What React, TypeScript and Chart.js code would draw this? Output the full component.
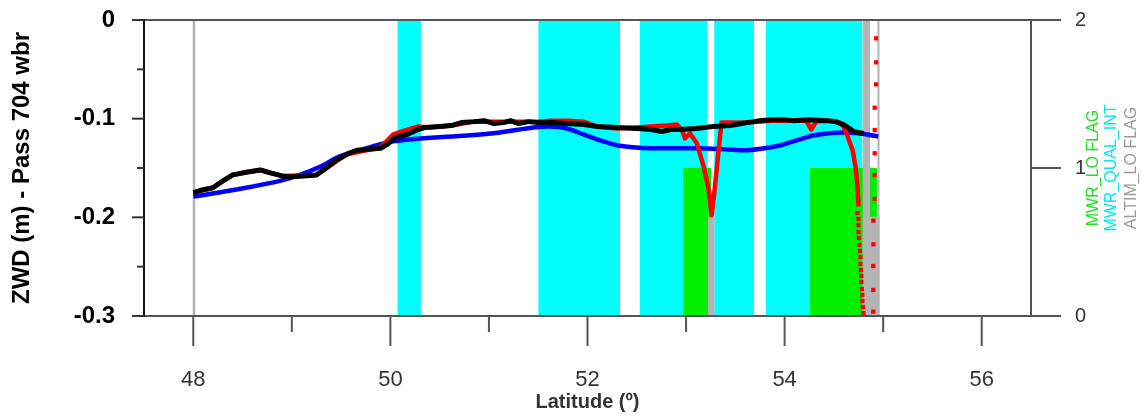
import React, { useEffect, useRef } from "react";
import { Chart, registerables } from "chart.js";

Chart.register(...registerables);

// ZWD along the pass (latitude in degrees, ZWD in metres)
const LAT_MODEL = [48.0, 48.48, 48.88, 49.08, 49.28, 49.49, 49.69, 49.89, 50.03, 50.3, 50.45, 50.78, 51.11, 51.45, 51.62, 51.79, 51.96, 52.13, 52.3, 52.46, 52.64, 53.14, 53.4, 53.62, 53.8, 53.96, 54.12, 54.29, 54.43, 54.6, 54.77, 54.95];
const ZWD_MODEL = [-0.179, -0.171, -0.163, -0.157, -0.149, -0.138, -0.132, -0.126, -0.123, -0.12, -0.119, -0.117, -0.114, -0.109, -0.108, -0.11, -0.116, -0.122, -0.127, -0.129, -0.13, -0.13, -0.131, -0.132, -0.13, -0.127, -0.122, -0.117, -0.115, -0.114, -0.115, -0.118];

const LAT_MWR = [48.0, 48.1, 48.2, 48.3, 48.4, 48.55, 48.68, 48.78, 48.9, 49.0, 49.12, 49.25, 49.35, 49.45, 49.56, 49.66, 49.78, 49.9, 49.97, 50.05, 50.17, 50.28, 50.35, 50.5, 50.62, 50.72, 50.85, 50.95, 51.05, 51.15, 51.22, 51.3, 51.4, 51.5, 51.62, 51.8, 51.96, 52.1, 52.3, 52.5, 52.64, 52.75, 52.85, 52.94, 53.1, 53.28, 53.45, 53.62, 53.75, 53.86, 54.0, 54.09, 54.25, 54.43, 54.52, 54.6, 54.66, 54.7, 54.8];
const ZWD_MWR = [-0.175, -0.172, -0.17, -0.163, -0.157, -0.154, -0.152, -0.155, -0.158, -0.159, -0.158, -0.157, -0.15, -0.142, -0.136, -0.132, -0.131, -0.13, -0.126, -0.119, -0.116, -0.111, -0.109, -0.108, -0.107, -0.104, -0.103, -0.102, -0.105, -0.104, -0.102, -0.105, -0.103, -0.104, -0.104, -0.105, -0.106, -0.108, -0.109, -0.11, -0.111, -0.113, -0.111, -0.111, -0.11, -0.108, -0.107, -0.104, -0.102, -0.101, -0.101, -0.102, -0.101, -0.102, -0.103, -0.106, -0.11, -0.113, -0.115];

const LAT_RAW = [48.0, 48.2, 48.4, 48.68, 48.9, 49.25, 49.56, 49.9, 50.03, 50.15, 50.28, 50.4, 50.62, 50.85, 51.22, 51.5, 51.62, 51.8, 51.96, 52.1, 52.3, 52.5, 52.64, 52.8, 52.91, 52.96, 52.99, 53.04, 53.11, 53.18, 53.23, 53.26, 53.29, 53.33, 53.36, 53.45, 53.62, 53.86, 54.09, 54.22, 54.27, 54.32, 54.43, 54.55, 54.6, 54.64, 54.69, 54.72, 54.74, 54.75];
const ZWD_RAW = [-0.175, -0.17, -0.157, -0.152, -0.158, -0.157, -0.136, -0.129, -0.116, -0.112, -0.108, -0.109, -0.107, -0.103, -0.103, -0.103, -0.102, -0.102, -0.103, -0.108, -0.11, -0.109, -0.108, -0.107, -0.106, -0.112, -0.12, -0.115, -0.125, -0.149, -0.172, -0.198, -0.172, -0.132, -0.104, -0.104, -0.104, -0.102, -0.102, -0.102, -0.111, -0.103, -0.102, -0.104, -0.108, -0.118, -0.132, -0.149, -0.169, -0.189];

// sparse samples where the raw ZWD plunges
const LAT_RAW_SPARSE = [54.739, 54.749, 54.749, 54.749, 54.754, 54.759, 54.764, 54.769, 54.769, 54.774, 54.779, 54.779, 54.784, 54.789, 54.789, 54.794, 54.799, 54.928, 54.928, 54.928, 54.914, 54.914, 54.914, 54.914, 54.914, 54.901, 54.901, 54.899, 54.899, 54.899];
const ZWD_RAW_SPARSE = [-0.1956, -0.2017, -0.2078, -0.2149, -0.2209, -0.228, -0.2341, -0.2402, -0.2473, -0.2534, -0.2594, -0.2655, -0.2726, -0.2787, -0.2848, -0.2909, -0.297, -0.0186, -0.0429, -0.0652, -0.0889, -0.1115, -0.1351, -0.1571, -0.1814, -0.2034, -0.2273, -0.2493, -0.2736, -0.2956];

// flag intervals (latitude start / end, flag level on the right axis)
const QUAL_INT_START = [50.07, 51.5, 52.53, 53.285, 53.81];
const QUAL_INT_END = [50.31, 52.33, 53.22, 53.69, 54.79];
const QUAL_INT_LEVEL = 2;
const LO_FLAG_START = [52.97, 54.255];
const LO_FLAG_END = [53.255, 54.94];
const LO_FLAG_LEVEL = 1;
const ALTIM_START = [47.992, 53.22, 54.79, 54.79, 54.94];
const ALTIM_END = [48.022, 53.29, 54.87, 54.965, 54.965];
const ALTIM_LEVEL = [2, 0.67, 2, 0.67, 2];

const FLAG_NAMES = ["MWR_LO FLAG", "MWR_QUAL_INT", "ALTIM_LO FLAG"];

const X_TICKS = [48, 50, 52, 54, 56];
const X_TICK_LABELS = ["48", "50", "52", "54", "56"];
const X_MINOR_TICKS = [49, 51, 53, 55];
const ZWD_TICKS = [-0.3, -0.2, -0.1, 0];
const ZWD_TICK_LABELS = ["-0.3", "-0.2", "-0.1", "0"];
const ZWD_MINOR_TICKS = [-0.25, -0.15, -0.05];
const FLAG_TICKS = [0, 1, 2];
const FLAG_TICK_LABELS = ["0", "1", "2"];

const FONT = "'Liberation Sans', Arial, sans-serif";
const CYAN = "#00ffff";
const GREEN = "#00ee00";
const GREY = "#b4b4b4";
const FLAG_COLORS = ["#22e022", "#00e8f0", "#9a9a9a"];

const zip = (xs: number[], ys: number[]) => xs.map((x, i) => ({ x, y: ys[i] }));

function band(start: number, end: number, level: number, color: string, order: number) {
  return {
    type: "line" as const,
    data: [
      { x: start, y: level },
      { x: end, y: level },
    ],
    yAxisID: "y1",
    borderColor: "rgba(0,0,0,0)",
    borderWidth: 0,
    backgroundColor: color,
    pointRadius: 0,
    fill: "origin",
    tension: 0,
    order,
  };
}

const framePlugin = {
  id: "frame",
  afterDatasetsDraw(chart: any) {
    const { ctx, chartArea: a, scales } = chart;
    const x = scales.x;
    const y = scales.y;
    const y1 = scales.y1;
    ctx.save();
    ctx.lineCap = "butt";
    ctx.lineWidth = 2;

    // plot box
    ctx.strokeStyle = "#555";
    ctx.beginPath();
    ctx.moveTo(a.left, a.top);
    ctx.lineTo(a.right, a.top);
    ctx.lineTo(a.right, a.bottom);
    ctx.lineTo(a.left, a.bottom);
    ctx.stroke();
    ctx.strokeStyle = "#111";
    ctx.beginPath();
    ctx.moveTo(a.left, a.top - 1);
    ctx.lineTo(a.left, a.bottom + 1);
    ctx.stroke();

    // left ticks
    ctx.strokeStyle = "#333";
    ZWD_TICKS.forEach((v) => {
      const py = y.getPixelForValue(v);
      ctx.beginPath();
      ctx.moveTo(a.left - 12, py);
      ctx.lineTo(a.left, py);
      ctx.stroke();
    });
    ZWD_MINOR_TICKS.forEach((v) => {
      const py = y.getPixelForValue(v);
      ctx.beginPath();
      ctx.moveTo(a.left - 7, py);
      ctx.lineTo(a.left, py);
      ctx.stroke();
    });

    // bottom ticks
    ctx.strokeStyle = "#555";
    X_TICKS.forEach((v) => {
      const px = x.getPixelForValue(v);
      ctx.beginPath();
      ctx.moveTo(px, a.bottom);
      ctx.lineTo(px, a.bottom + 30);
      ctx.stroke();
    });
    X_MINOR_TICKS.forEach((v) => {
      const px = x.getPixelForValue(v);
      ctx.beginPath();
      ctx.moveTo(px, a.bottom);
      ctx.lineTo(px, a.bottom + 16);
      ctx.stroke();
    });

    // right ticks
    FLAG_TICKS.forEach((v) => {
      const py = y1.getPixelForValue(v);
      ctx.beginPath();
      ctx.moveTo(a.right, py);
      ctx.lineTo(a.right + 30, py);
      ctx.stroke();
    });

    // flag names, written upwards beside the right axis
    const offsets = [62.5, 81, 100.5];
    ctx.font = `16px ${FONT}`;
    ctx.textAlign = "center";
    ctx.textBaseline = "middle";
    FLAG_NAMES.forEach((name, i) => {
      ctx.save();
      ctx.translate(a.right + offsets[i], (a.top + a.bottom) / 2);
      ctx.rotate(-Math.PI / 2);
      ctx.fillStyle = FLAG_COLORS[i];
      ctx.fillText(name, 0, 0);
      ctx.restore();
    });
    ctx.restore();
  },
};

export default function App() {
  const canvasRef = useRef<HTMLCanvasElement | null>(null);

  useEffect(() => {
    document.body.style.margin = "0";
    const canvas = canvasRef.current;
    if (!canvas) return;
    Chart.defaults.font.family = FONT;

    const datasets: any[] = [];
    // flags: cyan behind, green over it, grey on top
    QUAL_INT_START.forEach((s, i) => datasets.push(band(s, QUAL_INT_END[i], QUAL_INT_LEVEL, CYAN, 30)));
    LO_FLAG_START.forEach((s, i) => datasets.push(band(s, LO_FLAG_END[i], LO_FLAG_LEVEL, GREEN, 20)));
    ALTIM_START.forEach((s, i) => datasets.push(band(s, ALTIM_END[i], ALTIM_LEVEL[i], GREY, 10)));

    datasets.push({
      type: "line",
      data: zip(LAT_MODEL, ZWD_MODEL),
      yAxisID: "y",
      borderColor: "#0000ff",
      borderWidth: 4.5,
      borderJoinStyle: "round",
      pointRadius: 0,
      fill: false,
      tension: 0.3,
      order: 5,
    });
    datasets.push({
      type: "line",
      data: zip(LAT_RAW, ZWD_RAW),
      yAxisID: "y",
      borderColor: "#ff0000",
      borderWidth: 4.5,
      borderJoinStyle: "round",
      pointRadius: 0,
      fill: false,
      tension: 0,
      order: 4,
    });
    datasets.push({
      type: "line",
      data: zip(LAT_RAW_SPARSE, ZWD_RAW_SPARSE),
      yAxisID: "y",
      showLine: false,
      pointStyle: "rect",
      pointRadius: 3,
      pointBorderWidth: 0,
      pointBackgroundColor: "#ff0000",
      fill: false,
      order: 3,
    });
    datasets.push({
      type: "line",
      data: zip(LAT_MWR, ZWD_MWR),
      yAxisID: "y",
      borderColor: "#000000",
      borderWidth: 5,
      borderJoinStyle: "round",
      pointRadius: 0,
      fill: false,
      tension: 0,
      order: 1,
    });

    const chart = new Chart(canvas, {
      type: "line",
      data: { datasets },
      plugins: [framePlugin],
      options: {
        animation: false,
        responsive: false,
        layout: { padding: { top: 20, left: 0, right: 0, bottom: 0 } },
        plugins: { legend: { display: false }, tooltip: { enabled: false } },
        scales: {
          x: {
            type: "linear",
            min: 47.5,
            max: 56.5,
            afterBuildTicks: (s: any) => {
              s.ticks = X_TICKS.map((value) => ({ value }));
            },
            afterFit: (s: any) => {
              s.height = 103;
            },
            grid: { display: false, drawTicks: true, tickLength: 51 },
            border: { display: false },
            ticks: {
              padding: 0,
              color: "#333",
              font: { size: 22 },
              maxRotation: 0,
              autoSkip: false,
              callback: (v: any) => X_TICK_LABELS[X_TICKS.indexOf(Number(v))] ?? "",
            },
            title: {
              display: true,
              text: "Latitude (º)",
              color: "#333",
              font: { size: 20, weight: "bold" },
              padding: { top: 0, bottom: 5 },
            },
          },
          y: {
            type: "linear",
            position: "left",
            min: -0.3,
            max: 0,
            afterBuildTicks: (s: any) => {
              s.ticks = ZWD_TICKS.map((value) => ({ value }));
            },
            afterFit: (s: any) => {
              s.width = 144;
            },
            grid: { display: false, drawTicks: true, tickLength: 29 },
            border: { display: false },
            ticks: {
              padding: 0,
              color: "#000",
              font: { size: 24, weight: "bold" },
              autoSkip: false,
              callback: (v: any) => ZWD_TICK_LABELS[ZWD_TICKS.indexOf(Number(v))] ?? "",
            },
            title: {
              display: true,
              text: "ZWD (m) - Pass 704 wbr",
              color: "#000",
              font: { size: 24, weight: "bold" },
              padding: { top: 8, bottom: 0 },
            },
          },
          y1: {
            type: "linear",
            position: "right",
            min: 0,
            max: 2,
            afterBuildTicks: (s: any) => {
              s.ticks = FLAG_TICKS.map((value) => ({ value }));
            },
            afterFit: (s: any) => {
              s.width = 114;
            },
            grid: { display: false, drawTicks: true, tickLength: 44 },
            border: { display: false },
            ticks: {
              padding: 0,
              color: "#333",
              font: { size: 20 },
              autoSkip: false,
              callback: (v: any) => FLAG_TICK_LABELS[FLAG_TICKS.indexOf(Number(v))] ?? "",
            },
          },
        },
      },
    });
    return () => chart.destroy();
  }, []);

  return (
    <div style={{ width: 1145, height: 419, background: "#fff" }}>
      <canvas ref={canvasRef} width={1145} height={419} style={{ display: "block" }} />
    </div>
  );
}
